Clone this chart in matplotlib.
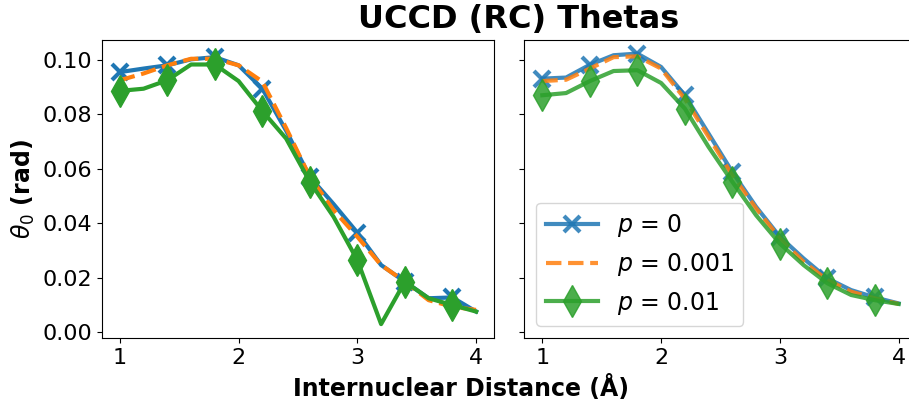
import matplotlib
matplotlib.use('Agg')
import matplotlib.pyplot as plt

# internuclear distances (Angstrom)
r = [1.0, 1.2, 1.4, 1.6, 1.8, 2.0, 2.2, 2.4, 2.6, 2.8, 3.0, 3.2, 3.4, 3.6, 3.8, 4.0]

# left panel
left_p0 = [0.0955, 0.0968, 0.0980, 0.1002, 0.1010, 0.0980, 0.0894, 0.0740,
           0.0570, 0.0470, 0.0365, 0.0246, 0.0185, 0.0124, 0.0127, 0.0075]
left_p001 = [0.0925, 0.0950, 0.0980, 0.1004, 0.1004, 0.0980, 0.0920, 0.0750,
             0.0570, 0.0448, 0.0350, 0.0246, 0.0185, 0.0117, 0.0093, 0.0081]
left_p01 = [0.0886, 0.0894, 0.0925, 0.0983, 0.0983, 0.0922, 0.0812, 0.0711,
            0.0552, 0.0423, 0.0264, 0.0029, 0.0185, 0.0124, 0.0099, 0.0075]

# right panel
right_p0 = [0.0931, 0.0935, 0.0982, 0.1017, 0.1023, 0.0974, 0.0870, 0.0729,
            0.0588, 0.0460, 0.0350, 0.0270, 0.0197, 0.0154, 0.0127, 0.0105]
right_p001 = [0.0922, 0.0927, 0.0968, 0.1010, 0.1013, 0.0968, 0.0857, 0.0717,
              0.0576, 0.0454, 0.0344, 0.0258, 0.0191, 0.0148, 0.0124, 0.0103]
right_p01 = [0.0870, 0.0878, 0.0922, 0.0959, 0.0962, 0.0915, 0.0821, 0.0680,
             0.0552, 0.0429, 0.0325, 0.0246, 0.0179, 0.0136, 0.0117, 0.0103]

labels = ['$p$ = 0', '$p$ = 0.001', '$p$ = 0.01']

fig = plt.figure(figsize=(9.09, 4.04), dpi=100)
ax1 = fig.add_axes([0.1122, 0.1634, 0.4312, 0.7376])
ax2 = fig.add_axes([0.5770, 0.1634, 0.4312, 0.7376], sharey=ax1)


def draw(ax, p0, p001, p01, alpha):
    ax.plot(r, p0, color='tab:blue', lw=3, marker='x', ms=12, mew=3,
            markevery=2, alpha=alpha, label=labels[0])
    ax.plot(r, p001, color='tab:orange', lw=3, ls='--', alpha=alpha,
            label=labels[1])
    ax.plot(r, p01, color='tab:green', lw=3, marker='d', ms=16,
            markevery=2, alpha=alpha, label=labels[2])
    ax.tick_params(labelsize=16)
    ax.set_xticks([1, 2, 3, 4])


draw(ax1, left_p0, left_p001, left_p01, 1.0)
draw(ax2, right_p0, right_p001, right_p01, 0.85)

ax1.set_yticks([0.0, 0.02, 0.04, 0.06, 0.08, 0.10])
ax1.set_ylim(-0.0022, 0.1073)
ax2.tick_params(labelleft=False)
ax1.set_ylabel(r'$\theta_0$ (rad)', fontsize=17, fontweight='bold')

ax2.legend(loc='lower left', fontsize=17, numpoints=1, handlelength=2.2)

fig.text(0.571, 0.99, 'UCCD (RC) Thetas', fontsize=23, fontweight='bold',
         ha='center', va='top')
fig.text(0.507, 0.04, 'Internuclear Distance (Å)', fontsize=17,
         fontweight='bold', ha='center', va='center')

fig.savefig('out.png', dpi=100)
